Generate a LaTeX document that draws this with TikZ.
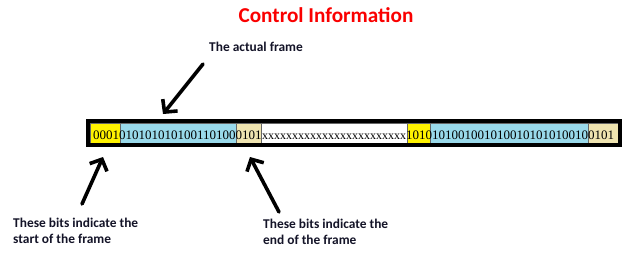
\documentclass[tikz,border=0pt]{standalone}
\usepackage{fontspec}
\setmainfont{Liberation Serif}
\newfontfamily\calibri{Carlito}
\usetikzlibrary{arrows.meta}
\definecolor{pyellow}{RGB}{255,242,0}
\definecolor{pblue}{RGB}{153,217,234}
\definecolor{ptan}{RGB}{239,228,176}
\definecolor{labtext}{RGB}{20,20,40}
\definecolor{titlered}{RGB}{250,0,0}
\begin{document}
\begin{tikzpicture}[x=1pt,y=-1pt,
  seg/.style={draw=black!60, line width=0.6pt, inner sep=0pt, outer sep=0pt, minimum height=20pt, anchor=north west},
  bits/.style={font=\fontsize{13}{14}\selectfont, inner sep=0pt, anchor=base west},
  xbits/.style={font=\fontsize{12}{14}\selectfont, inner sep=0pt, anchor=base west},
  lab/.style={font=\calibri\bfseries\fontsize{13.4}{16}\selectfont, align=left, inner sep=0pt, anchor=base west, text=labtext},
  bigarrow/.style={line width=3.6pt, line cap=round, -{Straight Barb[length=9pt, width=19pt]}}
]
\useasboundingbox (0,0) rectangle (640,255);
\fill[white] (0,0) rectangle (640,255);

% title
\node[font=\calibri\bfseries\fontsize{21.2}{24}\selectfont, text=titlered, inner sep=0pt, anchor=base] (title) at (326,22) {Control Information};

% frame segments
\node[seg, fill=pyellow, minimum width=30pt]  (y1) at (90,123) {};
\node[seg, fill=pblue,   minimum width=116pt] (b1) at (120,123) {};
\node[seg, fill=ptan,    minimum width=25pt]  (t1) at (236,123) {};
\node[seg, fill=white,   minimum width=146pt] (w1) at (261,123) {};
\node[seg, fill=pyellow, minimum width=23pt]  (y2) at (407,123) {};
\node[seg, fill=pblue,   minimum width=158pt] (b2) at (430,123) {};
\node[seg, fill=ptan,    minimum width=30pt]  (t2) at (588,123) {};
\draw[line width=4pt] (88,121) rectangle (620,145);

% bits
\node[bits]  (p1) at (93,139)  {00010101010101001101000101};
\node[xbits] (px) at (262,139) {xxxxxxxxxxxxxxxxxxxxxxxx};
\node[bits]  (p2) at (406,139) {10101010010010100101010100100101};

% labels
\node[lab] (lactual) at (209,51) {The actual frame};
\node[lab] (lstart) at (13,243) {These bits indicate the\\start of the frame};
\node[lab] (lend) at (263,244) {These bits indicate the\\end of the frame};

% arrows
\coordinate (a1s) at (203,64);
\coordinate (a1e) at (163,114);
\coordinate (a2s) at (82,204);
\coordinate (a2e) at (103,157);
\coordinate (a3s) at (279,212);
\coordinate (a3e) at (250,157);
\draw[bigarrow] (a1s) -- (a1e);
\draw[bigarrow] (a2s) -- (a2e);
\draw[bigarrow] (a3s) -- (a3e);
\end{tikzpicture}
\end{document}
